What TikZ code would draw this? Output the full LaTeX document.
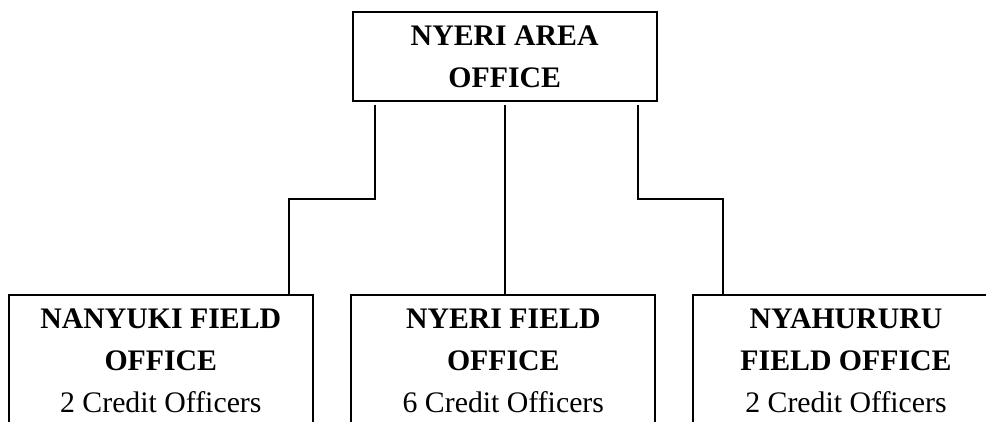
\documentclass[tikz,border=0pt]{standalone}
\usepackage{fontspec}
\setmainfont{Liberation Serif}
\begin{document}
\begin{tikzpicture}[x=1pt,y=-1pt,
  officebox/.style={draw,line width=2.2pt,minimum width=304pt,inner sep=0pt,anchor=north},
  officetext/.style={align=center,inner sep=0pt,anchor=north,font=\fontsize{29.8}{42}\selectfont},
  conn/.style={line width=2.2pt}]
\useasboundingbox (0,0) rectangle (986,422);
\clip (0,0) rectangle (986,422);
% top box
\node[officebox,minimum height=89pt,align=center,font=\fontsize{29.8}{42}\selectfont] (top) at (504.7,11) {\textbf{NYERI AREA}\\\textbf{OFFICE}};
% bottom boxes
\node[officebox,minimum height=200pt] (b1) at (160.8,294) {};
\node[officebox,minimum height=200pt] (b2) at (503.3,294) {};
\node[officebox,minimum width=306pt,minimum height=200pt] (b3) at (846,294) {};
\node[officetext] (t1) at (160.8,308.5) {\textbf{NANYUKI FIELD}\\\textbf{OFFICE}\\2 Credit Officers};
\node[officetext] (t2) at (503.3,308.5) {\textbf{NYERI FIELD}\\\textbf{OFFICE}\\6 Credit Officers};
\node[officetext] (t3) at (846,308.5) {\textbf{NYAHURURU}\\\textbf{FIELD OFFICE}\\2 Credit Officers};
% connectors
\coordinate (mid) at (0,199);
\coordinate (tL) at ([xshift=-129.7pt,yshift=-2.5pt]top.south);
\coordinate (tR) at ([xshift=133pt,yshift=-2.5pt]top.south);
\coordinate (tM) at ([yshift=-2.5pt]top.south);
\coordinate (bL) at ([xshift=128.2pt]b1.north);
\coordinate (bR) at ([xshift=-123.3pt]b3.north);
\draw[conn] (tL) -- (tL |- mid) -| (bL);
\draw[conn] (tR) -- (tR |- mid) -| (bR);
\draw[conn] (tM) -- (tM |- b2.north);
\end{tikzpicture}
\end{document}
